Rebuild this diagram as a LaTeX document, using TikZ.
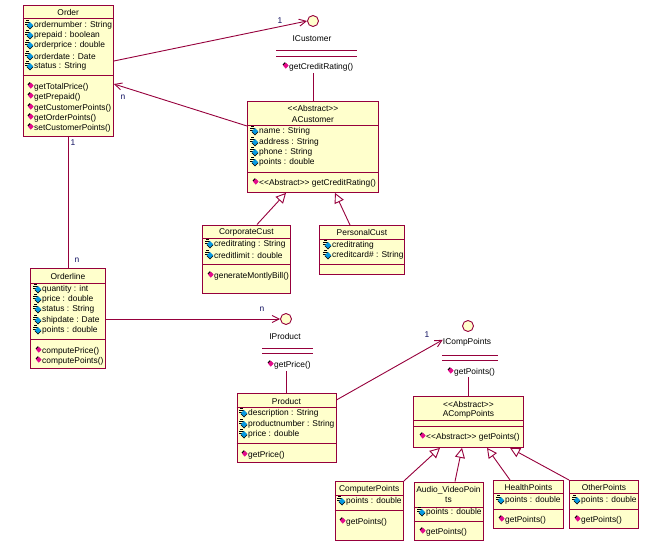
\documentclass[tikz,border=0pt]{standalone}
\usepackage{fontspec}
\setmainfont{Liberation Sans}
\usetikzlibrary{arrows.meta}

\definecolor{umlred}{HTML}{96003C}
\definecolor{umlfill}{HTML}{FFFFCC}
\definecolor{umlblue}{HTML}{101060}

\tikzset{
  attricon/.pic={
    \draw[black,line width=.9pt] (-8,-5) -- (-5,-5) (-9,-3) -- (-4,-3) (-9,-1) -- (-5,-1);
    \fill[black] (-4,-2.3) -- (-.6,1) -- (-4,4.5) -- (-7.4,1) -- cycle;
    \fill[cyan!85!blue] (-4,-2.8) -- (-.8,.3) -- (-4,3.4) -- (-7.2,.3) -- cycle;
  },
  opicon/.pic={
    \fill[black] (-4.2,-4.8) -- (-1.5,-2.2) -- (-3.5,0) -- (-6.5,-2.5) -- cycle;
    \fill[magenta!90!violet] (-3.2,-4.2) -- (-.4,-1.4) -- (-3.2,1.6) -- (-6,-1.3) -- cycle;
  }
}

% lists of rows inside a class box
\newcommand{\attrlist}[3]{\foreach \ypos/\txt in {#3}{
    \pic at (#2,\ypos) {attricon};
    \node[itemtext] (#1-a\ypos) at (#2,\ypos) {\txt};}}
\newcommand{\oplist}[3]{\foreach \ypos/\txt in {#3}{
    \pic at (#2,\ypos) {opicon};
    \node[itemtext] (#1-o\ypos) at (#2,\ypos) {\txt};}}
\newcommand{\divider}[2]{\draw[umlline] (#1.west |- 0,#2) -- (#1.east |- 0,#2);}
\newcommand{\stereo}{<{}<Abstract>{}>}

\begin{document}
\begin{tikzpicture}[x=1pt,y=-1pt,font=\fontsize{8.4}{9}\selectfont,
  umlline/.style={draw=umlred,line width=.9pt},
  classbox/.style={umlline,fill=umlfill,anchor=north west,inner sep=0pt},
  ifacedot/.style={umlline,fill=umlfill,circle,inner sep=0pt,minimum size=11pt},
  itemtext/.style={anchor=west,inner sep=0pt,yshift=-.8pt},
  titletext/.style={inner sep=0pt,yshift=-.8pt},
  mult/.style={inner sep=0pt,text=umlblue},
  assoc/.style={umlline,-{Straight Barb[length=7pt,width=7pt]}},
  inherit/.style={umlline,-{Triangle[open,length=10pt,width=10pt]}}]

\useasboundingbox (0,0) rectangle (658,556);

\node[classbox,minimum width=90.5pt,minimum height=130.5pt] (order) at (22.5,5.5) {};
\node[classbox,minimum width=75pt,minimum height=100pt] (orderline) at (30,268) {};
\node[classbox,minimum width=131pt,minimum height=90.5pt] (acustomer) at (247,101.5) {};
\node[classbox,minimum width=88pt,minimum height=68.5pt] (corporatecust) at (202,224.5) {};
\node[classbox,minimum width=85pt,minimum height=48.5pt] (personalcust) at (319,225) {};
\node[classbox,minimum width=99pt,minimum height=69pt] (product) at (236.5,393) {};
\node[classbox,minimum width=110pt,minimum height=51pt] (acomppoints) at (413,396) {};
\node[classbox,minimum width=68.5pt,minimum height=59pt] (computerpoints) at (334.5,481) {};
\node[classbox,minimum width=69pt,minimum height=58.5pt] (audiopoints) at (413.5,481.5) {};
\node[classbox,minimum width=70pt,minimum height=48pt] (healthpoints) at (493,480) {};
\node[classbox,minimum width=69pt,minimum height=48pt] (otherpoints) at (569,480) {};

\node[ifacedot] (icustomer) at (313,21) {};
\node[ifacedot] (iproduct) at (286,319) {};
\node[ifacedot] (icomppoints) at (468,326) {};

\divider{order}{18} \divider{order}{75}
\divider{orderline}{283} \divider{orderline}{339}
\divider{acustomer}{125.5} \divider{acustomer}{172}
\divider{corporatecust}{238.7} \divider{corporatecust}{264}
\divider{personalcust}{239} \divider{personalcust}{264}
\divider{product}{407} \divider{product}{443}
\divider{acomppoints}{420} \divider{acomppoints}{426}
\divider{computerpoints}{495} \divider{computerpoints}{510}
\divider{audiopoints}{507} \divider{audiopoints}{521}
\divider{healthpoints}{493} \divider{healthpoints}{509}
\divider{otherpoints}{493} \divider{otherpoints}{509}

\node[titletext] (ordertitle) at (order.north |- 0,12) {Order};
\node[titletext] (orderlinetitle) at (orderline.north |- 0,276) {Orderline};
\node[titletext] (acustomerstereo) at (acustomer.north |- 0,108) {\stereo};
\node[titletext] (acustomertitle) at (acustomer.north |- 0,119) {ACustomer};
\node[titletext] (corporatetitle) at (corporatecust.north |- 0,232) {CorporateCust};
\node[titletext] (personaltitle) at (personalcust.north |- 0,232) {PersonalCust};
\node[titletext] (producttitle) at (product.north |- 0,401) {Product};
\node[titletext] (acompstereo) at (acomppoints.north |- 0,404) {\stereo};
\node[titletext] (acomptitle) at (acomppoints.north |- 0,414) {ACompPoints};
\node[titletext] (computertitle) at (computerpoints.north |- 0,489) {ComputerPoints};
\node[titletext] (audiotitle) at (audiopoints.north |- 0,489) {Audio\_VideoPoin};
\node[titletext] (audiotitleb) at (audiopoints.north |- 0,499) {ts};
\node[titletext] (healthtitle) at (healthpoints.north |- 0,487) {HealthPoints};
\node[titletext] (othertitle) at (otherpoints.north |- 0,487) {OtherPoints};

\attrlist{order}{34}{25/ordernumber : String,35/prepaid : boolean,45/orderprice : double,56/orderdate : Date,66/status : String}
\oplist{order}{34}{87/getTotalPrice(),97/getPrepaid(),108/getCustomerPoints(),118/getOrderPoints(),128/setCustomerPoints()}
\attrlist{orderline}{42}{289/quantity : int,299/price : double,309/status : String,320/shipdate : Date,330/points : double}
\oplist{orderline}{42}{351/computePrice(),361/computePoints()}
\attrlist{acustomer}{259}{131/name : String,142/address : String,152/phone : String,162/points : double}
\oplist{acustomer}{259}{183/\stereo{} getCreditRating()}
\attrlist{corporatecust}{214}{244/creditrating : String,255/creditlimit : double}
\oplist{corporatecust}{214}{276/generateMontlyBill()}
\attrlist{personalcust}{332}{245/creditrating,255/creditcard\# : String}
\attrlist{product}{248}{413/description : String,424/productnumber : String,434/price : double}
\oplist{product}{248}{455/getPrice()}
\oplist{acomppoints}{426}{437/\stereo{} getPoints()}
\attrlist{computerpoints}{346}{501/points : double}
\oplist{computerpoints}{346}{522/getPoints()}
\attrlist{audiopoints}{426}{512/points : double}
\oplist{audiopoints}{426}{532/getPoints()}
\attrlist{healthpoints}{505}{500/points : double}
\oplist{healthpoints}{505}{520/getPoints()}
\attrlist{otherpoints}{581}{500/points : double}
\oplist{otherpoints}{581}{520/getPoints()}

% interfaces
\node[titletext] (icustomerlabel) at (312,38) {ICustomer};
\draw[umlline] (276,50.5) -- (357,50.5) (276,56) -- (357,56);
\oplist{icustomer}{289}{67/getCreditRating()}
\node[titletext] (iproductlabel) at (285,336) {IProduct};
\draw[umlline] (262,348) -- (313,348) (262,353) -- (313,353);
\oplist{iproduct}{274}{365/getPrice()}
\node[titletext] (icomplabel) at (467,342) {ICompPoints};
\draw[umlline] (442,355) -- (498,355) (442,360) -- (498,360);
\oplist{icomppoints}{454}{372/getPoints()}

\path (order.east |- 0,61) edge[assoc] (icustomer.west)
	(acustomer.west |- 0,126) edge[assoc] (order.east |- 0,84)
	(orderline.east |- 0,319) edge[assoc] (iproduct.west)
	(product.east |- 0,400) edge[assoc] ([yshift=3pt]icomplabel.west);

\path (order.south |- 0,136) edge[umlline] (orderline.north -| order.south)
	(acustomer.north |- 0,73) edge[umlline] (acustomer.north)
	(product.north |- 0,371) edge[umlline] (product.north)
	(acomppoints.north |- 0,377) edge[umlline] (acomppoints.north);

\path (corporatecust.north -| 257,0) edge[inherit] (acustomer.south -| 286,0)
	(personalcust.north -| 350,0) edge[inherit] (acustomer.south -| 335,0)
	(computerpoints.north east) edge[inherit] (acomppoints.south -| 440,0)
	(audiopoints.north -| 455,0) edge[inherit] (acomppoints.south -| 462,0)
	(healthpoints.north -| 510,0) edge[inherit] (acomppoints.south -| 487,0)
	(otherpoints.north west) edge[inherit] (acomppoints.south -| 510,0);

\node[mult] (mult1) at (280,21) {1};
\node[mult] (mult2) at (123,97) {n};
\node[mult] (mult3) at (73,143) {1};
\node[mult] (mult4) at (77,260) {n};
\node[mult] (mult5) at (262,309) {n};
\node[mult] (mult6) at (427,335) {1};

\end{tikzpicture}
\end{document}
